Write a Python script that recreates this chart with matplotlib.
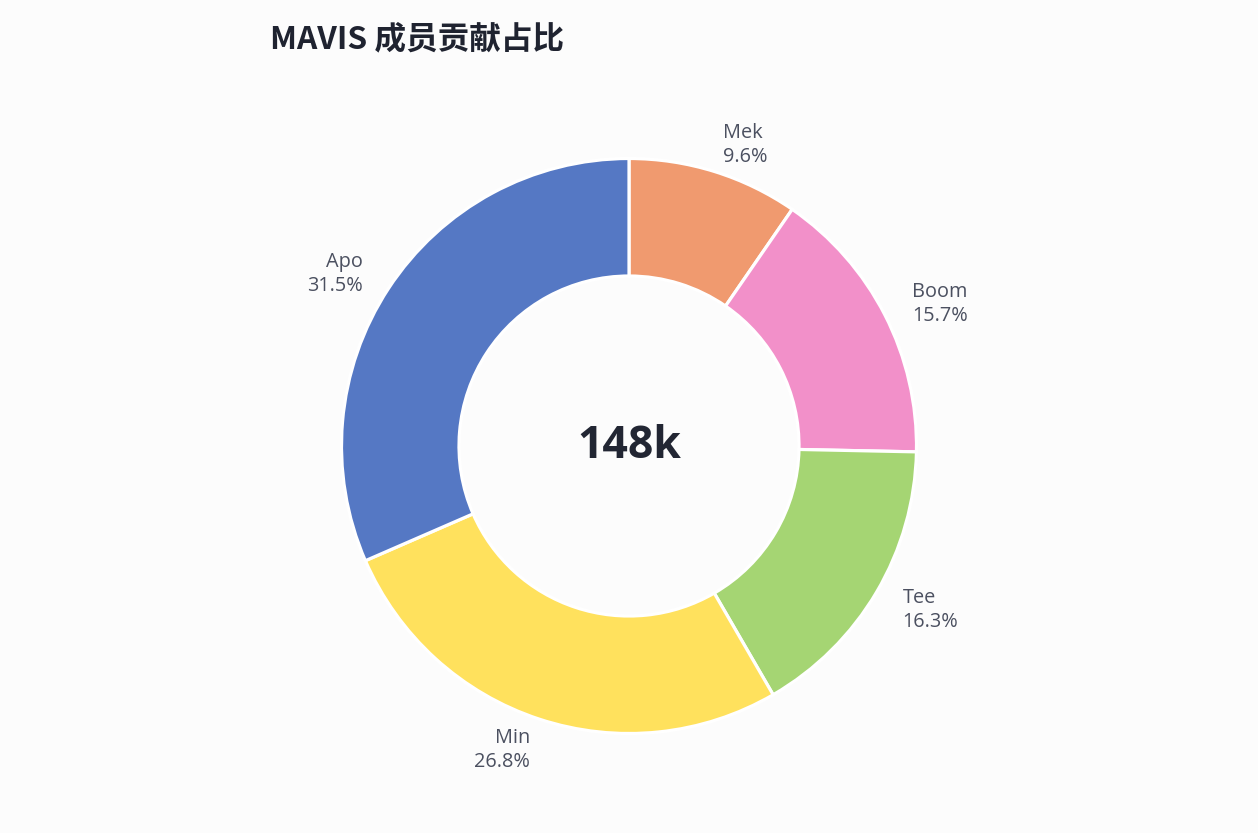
import numpy as np
import matplotlib
matplotlib.use("Agg")
import matplotlib.pyplot as plt

names = ["Mek", "Boom", "Tee", "Min", "Apo"]
shares = [9.6, 15.7, 16.3, 26.8, 31.5]
colors = ["#F09A6F", "#F290C9", "#A5D573", "#FFE15D", "#5578C4"]
title = "MAVIS 成员贡献占比"
center_label = "148k"

W, H = 1258, 833
fig = plt.figure(figsize=(W / 100, H / 100), dpi=100)
fig.patch.set_facecolor("#FCFCFC")
ax = fig.add_axes([0, 0, 1, 1])

cx, cy = 629, H - 446
R = 287.5
r_in = 170

wedges, _ = ax.pie(shares, colors=colors, startangle=90, counterclock=False,
                   center=(cx, cy), radius=R,
                   wedgeprops=dict(width=R - r_in, edgecolor="#FFFFFF", linewidth=2.3),
                   normalize=True, frame=True)
ax.set_xlim(0, W)
ax.set_ylim(0, H)
ax.set_aspect("equal")
ax.axis("off")

lab_r = R * 1.105
for w, n, s in zip(wedges, names, shares):
    mid = np.deg2rad((w.theta1 + w.theta2) / 2)
    x = cx + lab_r * np.cos(mid)
    y = cy + lab_r * np.sin(mid) - 2.5
    ha = "left" if np.cos(mid) > 0 else "right"
    ax.text(x, y, f"{n}\n{s:.1f}%", ha=ha, va="center", fontsize=14.3,
            family=["Open Sans", "DejaVu Sans"], color="#4B5060", linespacing=1.27,
            multialignment=ha)

ax.text(cx, cy, center_label, ha="center", va="center", fontsize=32,
        fontweight="bold", family=["Open Sans", "DejaVu Sans"], color="#222633")

fig.text(270 / W, 1 - 39 / H, title, ha="left", va="center", fontsize=22.8,
         fontweight="bold", family=["Noto Sans CJK SC", "DejaVu Sans"], color="#1F2330")

fig.savefig("out.png", dpi=100, facecolor=fig.get_facecolor())
